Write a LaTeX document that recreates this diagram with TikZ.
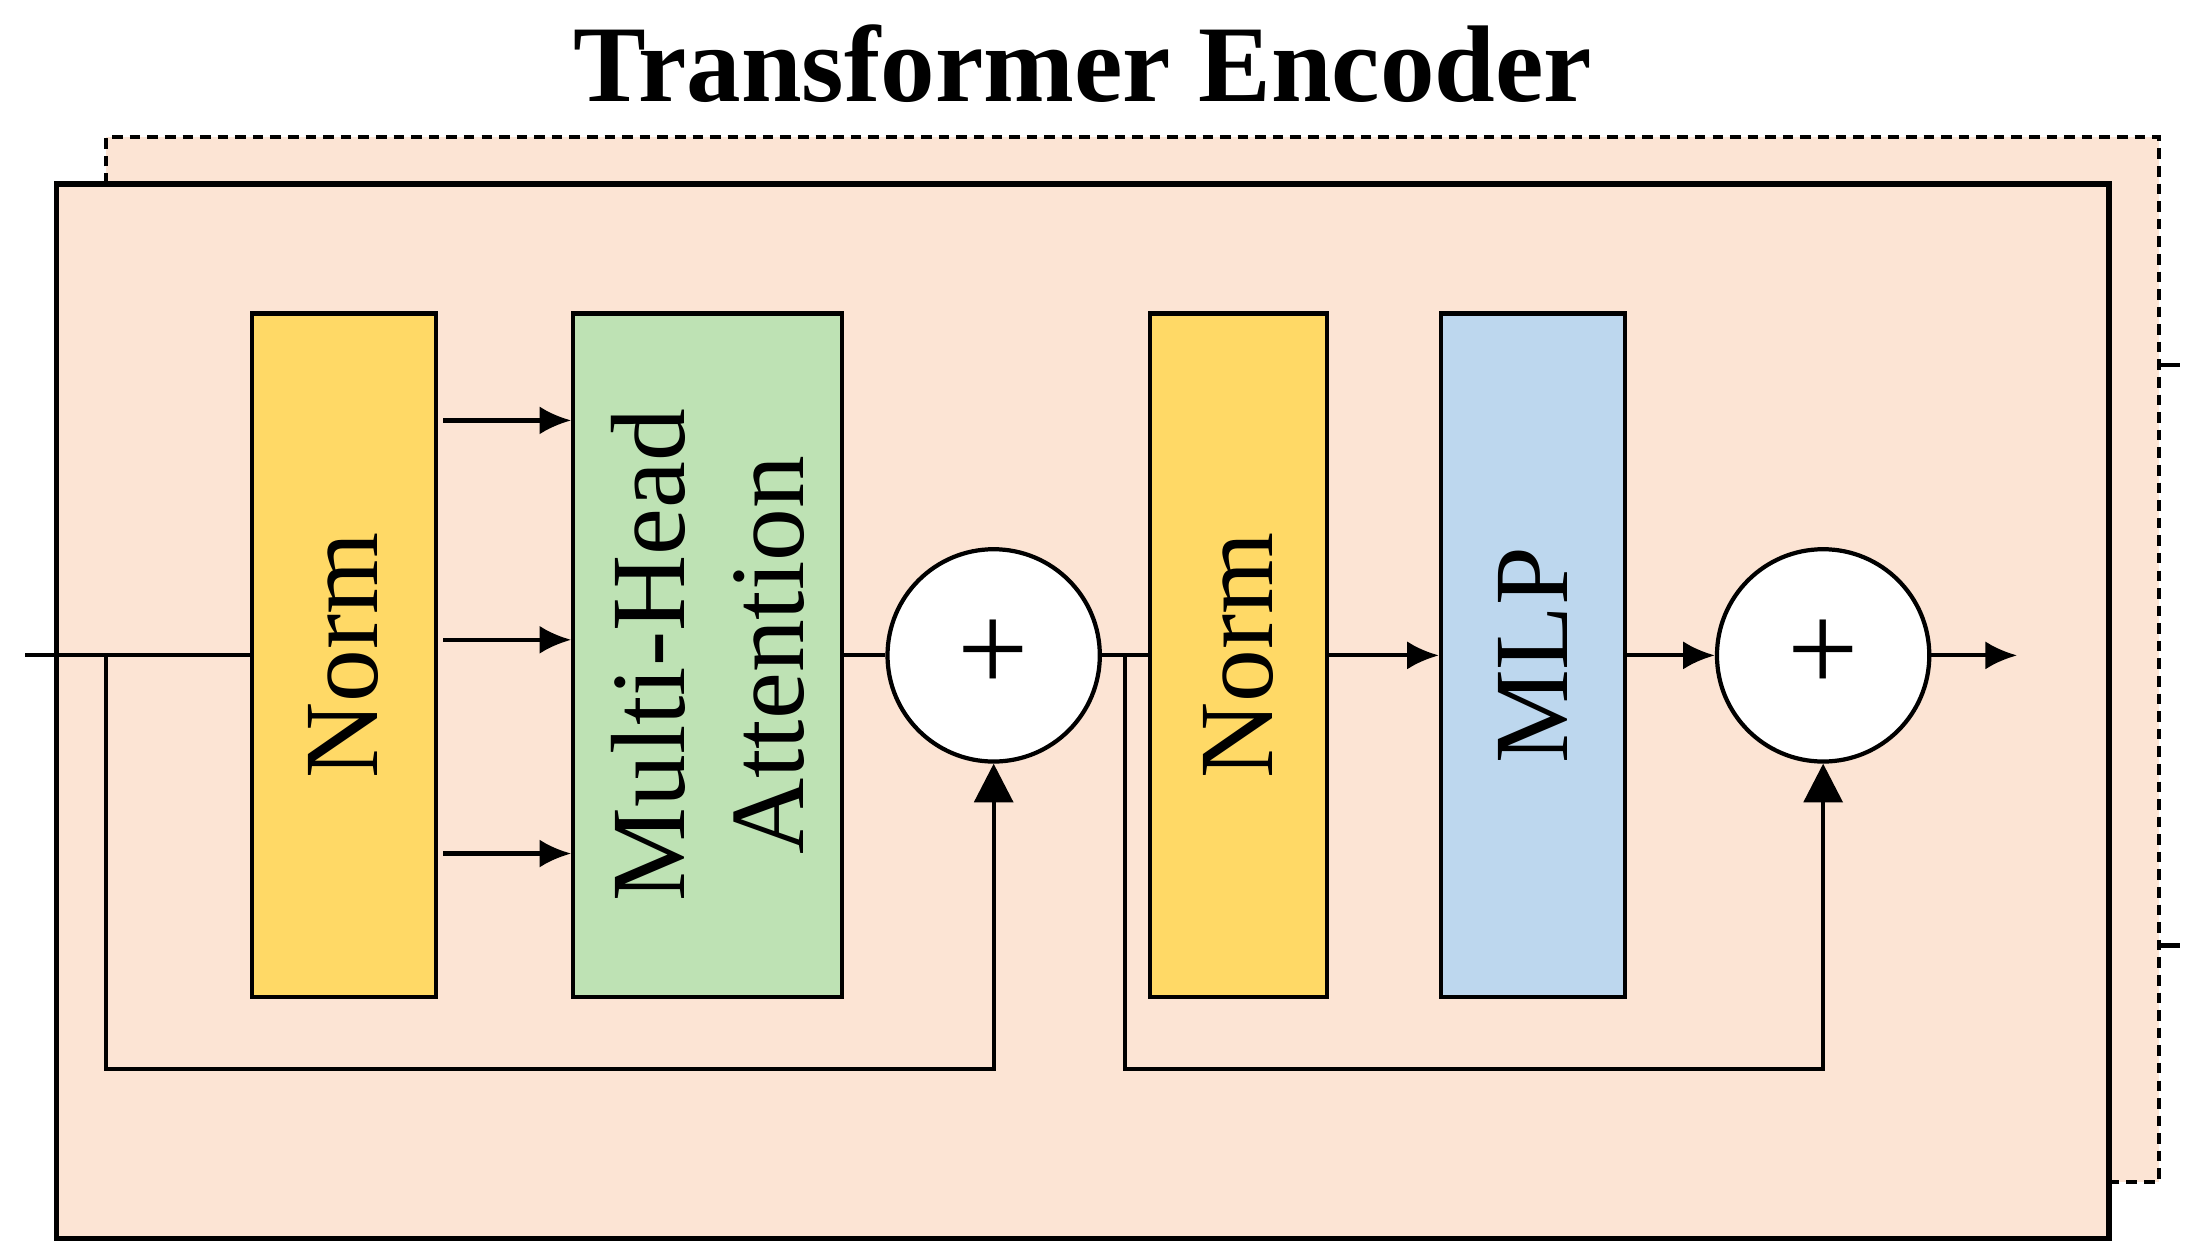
\documentclass[tikz,border=0pt]{standalone}
\usepackage{fontspec}
\setmainfont{Liberation Serif}
\usetikzlibrary{arrows.meta,positioning}
\definecolor{peach}{RGB}{252,228,212}
\definecolor{normyel}{RGB}{255,217,102}
\definecolor{attgreen}{RGB}{190,226,180}
\definecolor{mlpblue}{RGB}{189,215,238}
\tikzset{
  blk/.style={draw=black,line width=1.2pt,minimum width=#1,minimum height=483*0.01415cm,inner sep=0pt},
  lbl/.style={rotate=90,font=\fontsize{30}{34}\selectfont,align=center},
  add/.style={circle,draw=black,line width=1.2pt,fill=white,minimum size=150*0.01415cm,inner sep=0pt,font=\fontsize{36}{40}\selectfont},
  flow/.style={line width=1.2pt,-{Latex[length=9pt,width=8pt]}},
  skip/.style={line width=1.2pt,-{Triangle[length=11pt,width=11pt]}},
  wire/.style={line width=1.2pt}
}
\begin{document}
\begin{tikzpicture}[x=0.01415cm,y=-0.01415cm]
    \useasboundingbox (0,0) rectangle (1550,884);
    % title
    \node[font=\fontsize{31}{36}\selectfont\bfseries] (title) at (765,45) {Transformer Encoder};
    % stacked layer behind
    \fill[peach] (75,97) rectangle (1525,835);
    \draw[densely dashed,line width=1.2pt] (75,130)--(75,97)--(1525,97)--(1525,835)--(1490,835);
    \draw[line width=1.2pt] (1525,258)--(1540,258) (1525,668)--(1540,668);
    % main layer
    \draw[fill=peach,line width=1.5pt] (40,130) rectangle (1490,875);
    % blocks
    \node[blk=130*0.01415cm,fill=normyel] (norm1) at (243,463) {};
    \node[lbl] at (norm1) {Norm};
    \node[blk=190*0.01415cm,fill=attgreen] (mha) at (500,463) {};
    \node[lbl] at (mha) {Multi-Head\\Attention};
    \node[add] (add1) at (702,463) {+};
    \node[blk=125*0.01415cm,fill=normyel] (norm2) at (875,463) {};
    \node[lbl] at (norm2) {Norm};
    \node[blk=130*0.01415cm,fill=mlpblue] (mlp) at (1083,463) {};
    \node[lbl] at (mlp) {MLP};
    \node[add] (add2) at (1288,463) {+};
    \coordinate (in) at (18,463);
    \coordinate (out) at (1425,463);
    % connections
    \draw[wire] (in) -- (norm1.west);
    \draw[skip] (75,463) -- (75,755) -| (add1.south);
    \foreach \yy in {297,452,603}
        \draw[flow] (313,\yy) -- (mha.west |- 0,\yy);
    \draw[wire] (mha.east) -- (add1.west);
    \draw[wire] (add1.east) -- (norm2.west);
    \draw[skip] (795,463) -- (795,755) -| (add2.south);
    \draw[flow] (norm2.east) -- (mlp.west);
    \draw[flow] (mlp.east) -- (add2.west);
    \draw[flow] (add2.east) -- (out);
\end{tikzpicture}
\end{document}
